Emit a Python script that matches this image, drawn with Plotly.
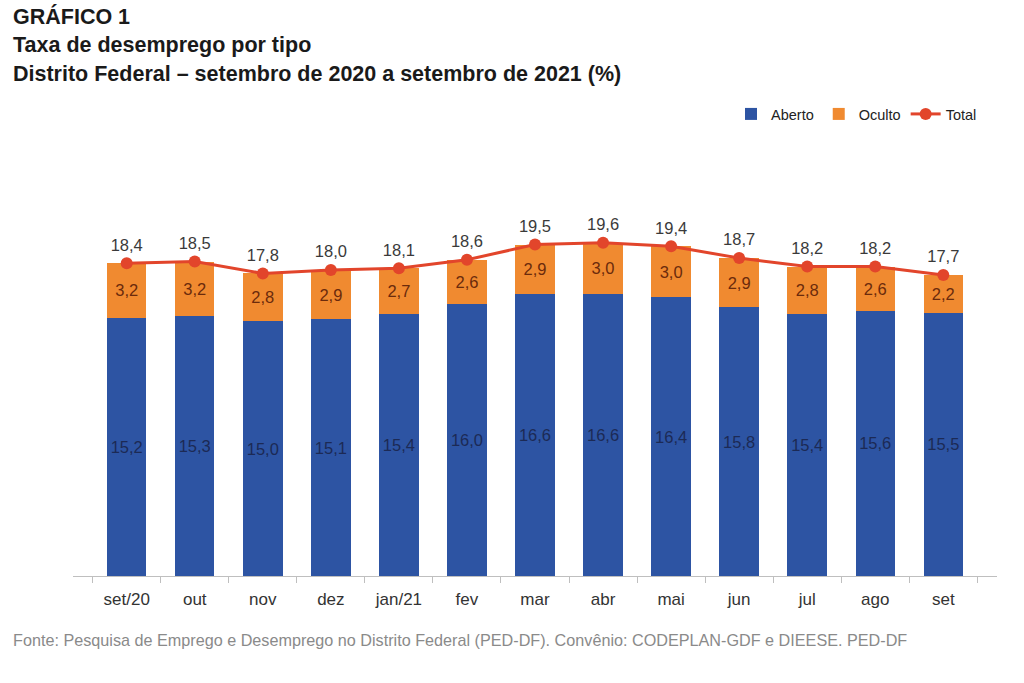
import plotly.graph_objects as go

meses = ["set/20", "out", "nov", "dez", "jan/21", "fev", "mar", "abr", "mai", "jun", "jul", "ago", "set"]
aberto = [15.2, 15.3, 15.0, 15.1, 15.4, 16.0, 16.6, 16.6, 16.4, 15.8, 15.4, 15.6, 15.5]
oculto = [3.2, 3.2, 2.8, 2.9, 2.7, 2.6, 2.9, 3.0, 3.0, 2.9, 2.8, 2.6, 2.2]
total = [18.4, 18.5, 17.8, 18.0, 18.1, 18.6, 19.5, 19.6, 19.4, 18.7, 18.2, 18.2, 17.7]

FONT = "Liberation Sans Narrow, Arial Narrow, Liberation Sans, Arial, sans-serif"

# plot area in pixels
W, H = 1024, 683
L, R, T, B = 73, 27, 185, 107
PH = H - T - B
PW = W - L - R


def fmt(v):
    # decimal comma, as in the original
    return f"{v:.1f}".replace(".", ",")


def py(pix):
    # pixel row -> paper y
    return (H - B - pix) / PH


def px_(pix):
    return (pix - L) / PW


fig = go.Figure()

fig.add_trace(go.Bar(
    x=meses, y=aberto, name="Aberto",
    marker=dict(color="#2D54A3", line=dict(width=0)),
    text=[fmt(v) for v in aberto], textposition="inside", insidetextanchor="middle",
    textfont=dict(color="#1C2A55", size=16.5, family=FONT),
))
fig.add_trace(go.Bar(
    x=meses, y=oculto, name="Oculto",
    marker=dict(color="#F08A30", line=dict(width=0)),
    text=[fmt(v) for v in oculto], textposition="inside", insidetextanchor="middle",
    textfont=dict(color="#6B2A0C", size=16.5, family=FONT),
))
fig.add_trace(go.Scatter(
    x=meses, y=total, name="Total", mode="lines+markers+text",
    line=dict(color="#E2452B", width=3),
    marker=dict(color="#E2452B", size=12),
    text=[fmt(v) for v in total], textposition="top center",
    textfont=dict(color="#3A3A3A", size=16.5, family=FONT),
    cliponaxis=False,
))

# titles
for t, yy in [
    ("GRÁFICO 1", 16),
    ("Taxa de desemprego por tipo", 45),
    ("Distrito Federal – setembro de 2020 a setembro de 2021 (%)", 74),
]:
    fig.add_annotation(
        text=f"<b>{t}</b>", xref="paper", yref="paper",
        x=px_(11), y=py(yy),
        xanchor="left", yanchor="middle", showarrow=False,
        font=dict(size=21.5, color="#1A1A1A", family=FONT),
    )

fig.add_annotation(
    text="Fonte: Pesquisa de Emprego e Desemprego no Distrito Federal (PED-DF). Convênio: CODEPLAN-GDF e DIEESE. PED-DF",
    xref="paper", yref="paper", x=px_(11), y=py(640),
    xanchor="left", yanchor="middle", showarrow=False,
    font=dict(size=16.2, color="#8A8A8A", family=FONT),
)

fig.update_layout(
    width=W, height=H,
    barmode="stack", bargap=0.42,
    plot_bgcolor="white", paper_bgcolor="white",
    margin=dict(l=L, r=R, t=T, b=B),
    font=dict(family=FONT, size=15, color="#333333"),
    uniformtext=dict(mode="show", minsize=15),
    showlegend=True,
    legend=dict(
        orientation="h", x=px_(982), xanchor="right", y=py(114), yanchor="middle",
        font=dict(size=14.5, color="#222222", family=FONT), traceorder="normal",
    ),
)
fig.update_xaxes(
    type="category", showline=True, linecolor="#BFBFBF", linewidth=1,
    ticks="outside", tickson="boundaries", ticklen=6, tickcolor="#BFBFBF",
    ticklabelstandoff=8,
    tickfont=dict(size=17, color="#333333", family=FONT), showgrid=False,
)
fig.update_yaxes(range=[0, 23], visible=False, showgrid=False)

# drop the page's default body margin so the figure sits at (0, 0)
fig.write_html(
    "out.html",
    config={"displayModeBar": False},
    post_script="document.body.style.margin='0';",
)
